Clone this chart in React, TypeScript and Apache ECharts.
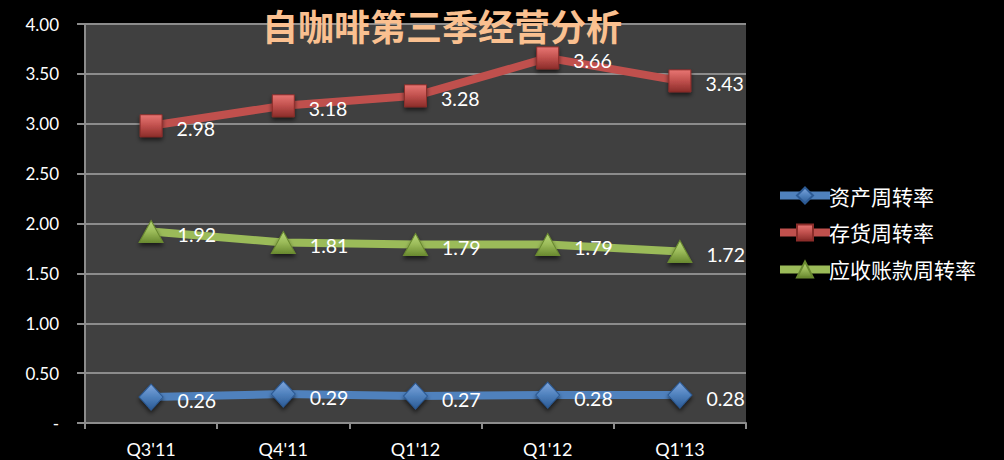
import React, { useEffect, useRef } from "react";
import * as echarts from "echarts";

const categories = ["Q3'11", "Q4'11", "Q1'12", "Q1'12", "Q1'13"];
const assetTurnover = [0.26, 0.29, 0.27, 0.28, 0.28];
const inventoryTurnover = [2.98, 3.18, 3.28, 3.66, 3.43];
const receivableTurnover = [1.92, 1.81, 1.79, 1.79, 1.72];
const seriesNames = ["资产周转率", "存货周转率", "应收账款周转率"];
const title = "自咖啡第三季经营分析";

const FONT = "Lato, 'Noto Sans CJK SC', sans-serif";

function symbolColor(base: string, light: string, dark: string) {
  return new echarts.graphic.LinearGradient(0, 0, 0, 1, [
    { offset: 0, color: light },
    { offset: 0.5, color: base },
    { offset: 1, color: dark },
  ]);
}

export default function App() {
  const ref = useRef<HTMLDivElement>(null);
  useEffect(() => {
    const chart = echarts.init(ref.current!, null, { renderer: "svg" });
    const mk = (
      name: string,
      data: number[],
      color: string,
      light: string,
      dark: string,
      symbol: string,
      size: number | number[]
    ) => ({
      name,
      type: "line",
      data,
      symbol,
      symbolSize: size,
      lineStyle: { color, width: 8 },
      itemStyle: {
        color: symbolColor(color, light, dark),
        borderColor: dark,
        borderWidth: 1,
        shadowColor: "rgba(0,0,0,0.6)",
        shadowBlur: 4,
        shadowOffsetY: 3,
      },
      label: {
        show: true,
        position: "right",
        distance: 14,
        color: "#ffffff",
        fontSize: 19.5,
        fontFamily: FONT,
        offset: [0, 3],
        formatter: (p: any) => p.value.toFixed(2),
      },
      emphasis: { disabled: true },
      z: 3,
    });
    chart.setOption({
      animation: false,
      backgroundColor: "#000000",
      title: {
        text: title,
        left: 442,
        top: 6,
        padding: 0,
        textAlign: "center",
        textStyle: {
          color: "#FAC090",
          fontSize: 36,
          lineHeight: 38,
          fontWeight: "bold",
          fontFamily: "'Noto Sans CJK SC', sans-serif",
        },
        z: 10,
      },
      legend: {
        orient: "vertical",
        left: 771,
        top: 180,
        itemWidth: 50,
        itemHeight: 20,
        itemGap: 16,
        lineStyle: { width: 8 },
        textStyle: {
          color: "#ffffff",
          fontSize: 21,
          fontFamily: "'Noto Sans CJK SC', sans-serif",
          padding: [0, 0, 0, -6],
        },
        data: seriesNames,
      },
      grid: {
        left: 85,
        right: 258,
        top: 24,
        bottom: 37,
        show: true,
        backgroundColor: "#404040",
        borderWidth: 0,
      },
      xAxis: {
        type: "category",
        data: categories,
        boundaryGap: true,
        axisLine: { lineStyle: { color: "#8c8c8c", width: 2 } },
        axisTick: { show: true, length: 6, inside: false, lineStyle: { color: "#8c8c8c", width: 2 } },
        axisLabel: {
          color: "#ffffff",
          fontSize: 18,
          fontFamily: FONT,
          margin: 17,
        },
      },
      yAxis: {
        type: "value",
        min: 0,
        max: 4,
        interval: 0.5,
        axisLine: { show: true, lineStyle: { color: "#8c8c8c", width: 2 } },
        axisTick: { show: true, length: 8, lineStyle: { color: "#8c8c8c", width: 2 } },
        splitLine: { lineStyle: { color: "#8c8c8c", width: 2 } },
        axisLabel: {
          color: "#ffffff",
          fontSize: 17,
          fontFamily: FONT,
          margin: 26,
          formatter: (v: number) => (v === 0 ? "-" : v.toFixed(2)),
        },
      },
      series: [
        mk(seriesNames[0], assetTurnover, "#4F81BD", "#7fa6dd", "#2c5a94", "diamond", [24, 26]),
        mk(seriesNames[1], inventoryTurnover, "#C0504D", "#e87673", "#8c2d2a", "rect", 22),
        mk(seriesNames[2], receivableTurnover, "#9BBB59", "#b8d77a", "#6a8a30", "triangle", [24, 22]),
      ],
    });
    return () => chart.dispose();
  }, []);
  return (
    <div
      ref={ref}
      style={{ position: "fixed", left: 0, top: 0, width: 1004, height: 460 }}
    />
  );
}
